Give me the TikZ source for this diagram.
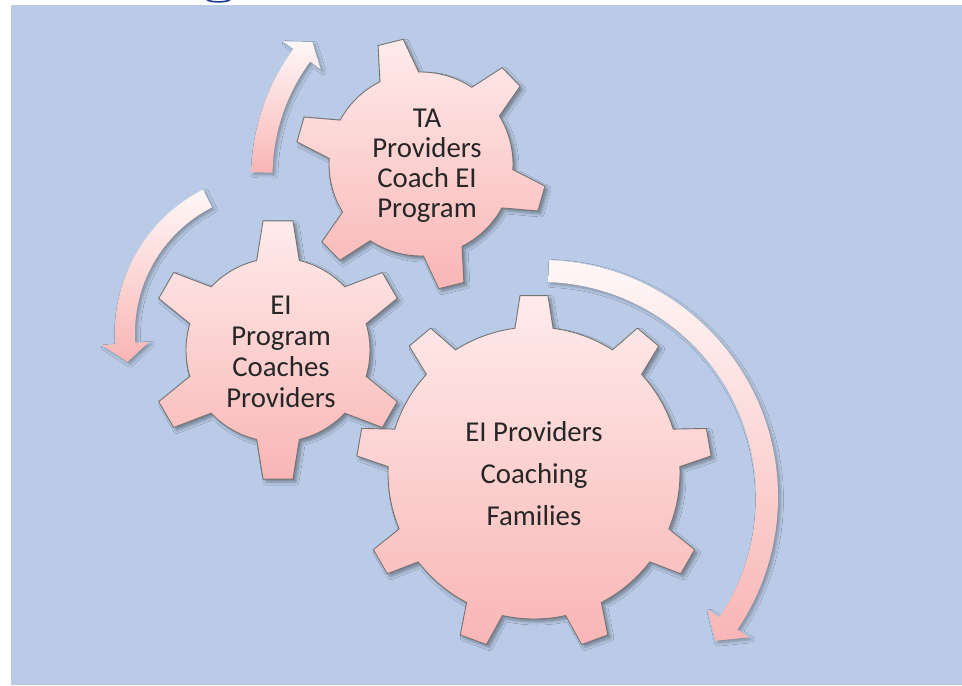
\documentclass[tikz,border=0pt]{standalone}
\usepackage{fontspec}
\setmainfont{Carlito}
\usetikzlibrary{calc,shadows.blur}
\definecolor{bgblue}{HTML}{B9CBE6}
\definecolor{pinklight}{HTML}{FFEBEB}
\definecolor{pinkdark}{HTML}{F8B6B5}
\definecolor{headblue}{HTML}{1F3A93}
\tikzset{
	gear/.style={
			draw=black!55, line width=0.45pt,
			top color=pinklight, bottom color=pinkdark,
			blur shadow={shadow xshift=1.5pt, shadow yshift=-1.5pt, shadow opacity=35, shadow blur radius=1.5pt}
		},
	turn/.style={
			draw=none,
			top color=white!60!pinklight, bottom color=pinkdark,
			blur shadow={shadow xshift=1.2pt, shadow yshift=-1.2pt, shadow opacity=30, shadow blur radius=1.5pt}
		},
	gearlabel/.style={align=center, text=black!85, font=\fontsize{14.4}{#1}\selectfont}
}
% (center), teeth, inner r, outer r, first tooth, base half angle, tip half angle
\newcommand{\gearpath}[7]{%
	($(#1)+(#5-#6:#3)$)
	\foreach \k [evaluate=\k as \th using #5+(\k-1)*360/#2] in {1,...,#2} {
			-- ($(#1)+({\th-#7}:#4)$) -- ($(#1)+({\th+#7}:#4)$) -- ($(#1)+({\th+#6}:#3)$)
			arc[start angle=\th+#6, end angle=\th+360/#2-#6, radius=#3]
		} -- cycle}
% (center), mid radius, half width, start, end, head half width, tip
\newcommand{\turnpath}[7]{%
	($(#1)+(#4:{#2+#3})$) arc[start angle=#4, end angle=#5, radius=#2+#3]
	-- ($(#1)+(#5:{#2+#6})$) -- ($(#1)+(#7:#2)$) -- ($(#1)+(#5:{#2-#6})$)
	-- ($(#1)+(#5:{#2-#3})$) arc[start angle=#5, end angle=#4, radius=#2-#3] -- cycle}

\begin{document}
\begin{tikzpicture}[x=0.5pt, y=0.5pt]

	\useasboundingbox (0,0) rectangle (962,-685);
	\fill[bgblue] (11,-5) rectangle (962,-685);

	% heading cut off at the top
	\draw[headblue, line width=0.8pt] (207,0) .. controls (213,-2.5) and (224,-2.5) .. (230,0);

	\coordinate (gta) at (421,-164);
	\coordinate (gprog) at (278,-350);
	\coordinate (gfam) at (534,-473);

	% Draw the arrows
	\path[turn] \turnpath{465,-176}{203}{10.5}{179}{143.5}{23.5}{138.8};
	\path[turn] \turnpath{276,-333}{151}{10}{117}{184}{23.5}{191};
	\path[turn] \turnpath{541,-497}{226}{11}{88}{-34}{25}{-39.5};

	% Draw the gears
	\path[gear] \gearpath{gta}{6}{92}{126}{104}{12.5}{5.9};
	\path[gear] \gearpath{gprog}{6}{92}{130}{90}{13.4}{6.6};
	\path[gear] \gearpath{gfam}{9}{146}{178}{90}{7.5}{4.5};

	\node[gearlabel=15] (ta) at (427,-166) {TA\\Providers\\Coach EI\\Program};
	\node[gearlabel=15.5] (prog) at (281,-352) {EI\\Program\\Coaches\\Providers};
	\node[gearlabel=21] (fam) at (534,-474) {EI Providers\\Coaching\\Families};
\end{tikzpicture}
\end{document}
